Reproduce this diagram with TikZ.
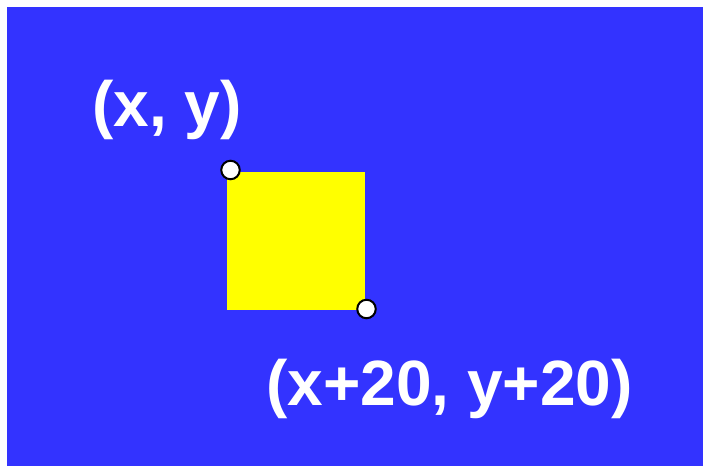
\documentclass[tikz,border=0pt]{standalone}
\usepackage{fontspec}
\setmainfont{Liberation Sans}
\definecolor{bgblue}{HTML}{3333FF}
\definecolor{sqyellow}{HTML}{FFFF00}
\begin{document}
\begin{tikzpicture}[x=1pt,y=-1pt,
  lbl/.style={text=white,font=\fontsize{64}{64}\selectfont\bfseries,inner sep=0pt,anchor=base west},
  dot/.style={circle,draw=black,line width=2pt,fill=white,minimum size=18.5pt,inner sep=0pt},
  sq/.style={fill=sqyellow,draw=none,minimum width=138pt,minimum height=138pt,inner sep=0pt,anchor=north west}]
\useasboundingbox (0,0) rectangle (703,466);
\fill[white] (0,0) rectangle (703,466);
\fill[bgblue] (7,7) rectangle (703,466);
\node[sq] (square) at (227,172) {};
\node[dot] (tl) at (230.5,170) {};
\node[dot] (br) at (366.5,309) {};
\node[lbl] (lxy) at (92,126) {(x, y)};
\node[lbl] (lxy2) at (266,405) {(x+20, y+20)};
\end{tikzpicture}
\end{document}
